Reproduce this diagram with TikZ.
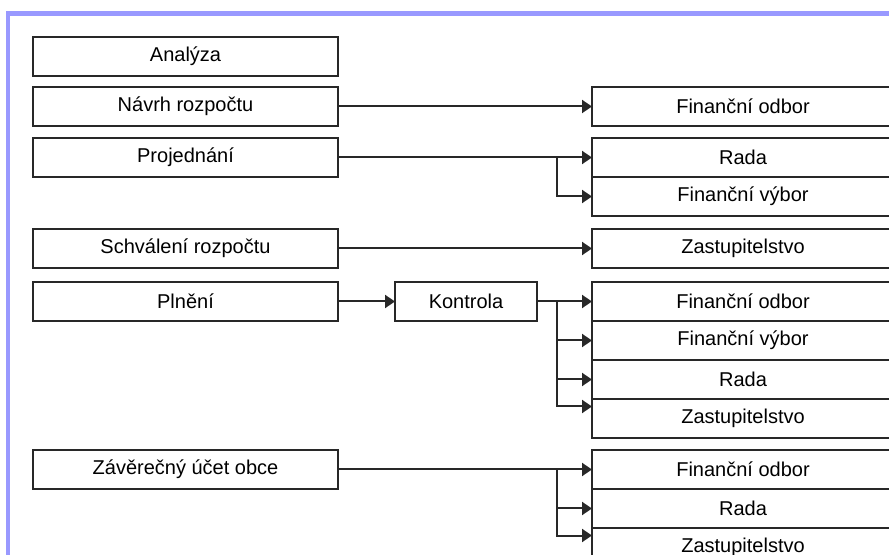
\documentclass[tikz,border=0pt]{standalone}
\usepackage{fontspec}
\setmainfont{Liberation Sans}
\usetikzlibrary{arrows.meta,positioning}
\definecolor{frame}{RGB}{153,153,255}
\definecolor{ink}{RGB}{40,40,40}
\tikzstyle{every node}+=[inner sep=0mm,outer sep=0mm,font=\fontsize{10}{12}\selectfont]
\tikzstyle{stage}=[draw=ink,line width=0.7pt,minimum width=152.5pt,minimum height=19.5pt,anchor=north west]
\tikzstyle{body}=[draw=ink,line width=0.7pt,minimum width=151pt,minimum height=19.5pt,anchor=north west]
\tikzstyle{arr}=[draw=ink,line width=1pt,-{Triangle[length=5pt,width=6.5pt]}]

\begin{document}
\begin{tikzpicture}[x=0.5pt,y=-0.5pt]
\useasboundingbox (0,0) rectangle (889,555);
\clip (0,0) rectangle (889,555);
\fill[frame] (6,11) rectangle (889,16);
\fill[frame] (6,11) rectangle (10,555);

\node[stage] (analyza) at (33,37) {Analýza};
\node[stage] (navrh) at (33,87) {Návrh rozpočtu};
\node[stage] (projed) at (33,138) {Projednání};
\node[stage] (schval) at (33,229) {Schválení rozpočtu};
\node[stage] (plneni) at (33,282) {Plnění};
\node[stage] (zaver) at (33,450) {Závěrečný účet obce};
\node[stage,minimum width=71pt] (kontrola) at (395,282) {Kontrola};

\node[body] (fo1) at (592,87) {Finanční odbor};
\node[body] (rada1) at (592,138) {Rada};
\node[body,below=0pt of rada1] (fv1) {Finanční výbor};
\node[body] (zast1) at (592,229) {Zastupitelstvo};
\node[body] (fo2) at (592,282) {Finanční odbor};
\node[body,below=0pt of fo2] (fv2) {Finanční výbor};
\node[body,below=0pt of fv2] (rada2) {Rada};
\node[body,below=0pt of rada2] (zast2) {Zastupitelstvo};
\node[body] (fo3) at (592,450) {Finanční odbor};
\node[body,below=0pt of fo3] (rada3) {Rada};
\node[body,below=0pt of rada3] (zast3) {Zastupitelstvo};

\coordinate (br) at (557,0);

\draw[arr] (navrh) -- (fo1);
\draw[arr] (projed) -- (rada1);
\draw[arr] (projed.east -| br) |- (fv1.west);
\draw[arr] (schval) -- (zast1);
\draw[arr] (plneni) -- (kontrola);
\draw[arr] (kontrola) -- (fo2);
\draw[arr] (kontrola.east -| br) |- (fv2.west);
\draw[arr] (kontrola.east -| br) |- (rada2.west);
\draw[arr] (kontrola.east -| br) |- ([yshift=6pt]zast2.west);
\draw[arr] (zaver) -- (fo3);
\draw[arr] (zaver.east -| br) |- (rada3.west);
\draw[arr] (zaver.east -| br) |- ([yshift=6pt]zast3.west);
\end{tikzpicture}
\end{document}
